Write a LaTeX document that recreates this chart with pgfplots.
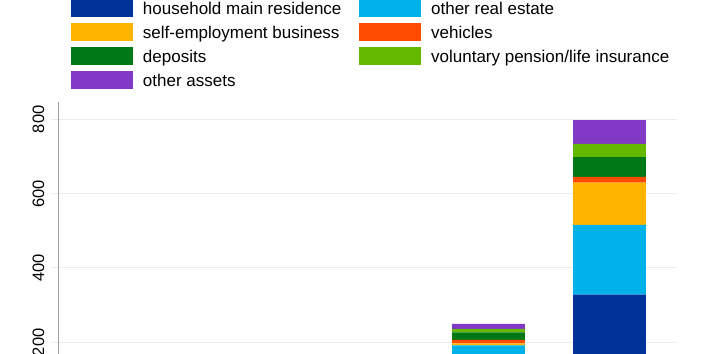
\documentclass[border=0pt]{standalone}
\usepackage{pgfplots}
\pgfplotsset{compat=1.18}
\usepackage{fontspec}
\setmainfont{Liberation Sans}
\definecolor{mainres}{HTML}{003299}
\definecolor{otherre}{HTML}{00B1EA}
\definecolor{selfemp}{HTML}{FFB400}
\definecolor{vehicles}{HTML}{FF4B00}
\definecolor{deposits}{HTML}{007816}
\definecolor{pension}{HTML}{65B800}
\definecolor{otherass}{HTML}{8139C6}
\definecolor{gridc}{HTML}{E8EEF0}
\begin{document}
\begin{tikzpicture}
\begin{axis}[
  name=ax,
  at={(58bp,-3bp)}, anchor=south west,
  scale only axis,
  width=619bp, height=255.3bp,
  ybar stacked,
  bar width=0.6,
  xmin=0.442, xmax=5.558,
  ymin=160.4, ymax=847.3,
  axis x line=none,
  axis y line*=left,
  y axis line style={draw=black!38, line width=1bp},
  ytick={200,400,600,800},
  ymajorgrids,
  major grid style={draw=gridc, line width=1bp},
  tick align=outside,
  major tick length=6.5bp,
  ytick style={draw=gridc, line width=1bp},
  /pgf/number format/assume math mode=true,
  yticklabel shift=7bp,
  yticklabel style={rotate=90, anchor=south, inner sep=0pt,
    font=\fontsize{16.5bp}{19bp}\selectfont},
  legend image code/.code={\fill[#1] (0bp,-8.75bp) rectangle (62bp,8.75bp);},
  legend columns=2,
  legend cell align=left,
  legend style={at={(0.0210,1.4015)}, anchor=north west,
    draw=none, fill=none, inner sep=0pt, outer sep=0pt,
    row sep=6.5bp,
    font=\fontsize{17bp}{20bp}\selectfont,
    nodes={inner sep=0pt, outer sep=0pt, text depth=0pt},
    /tikz/every odd column/.append style={column sep=10bp},
    /tikz/every even column/.append style={column sep=17.7bp}},
]
\addplot[fill=mainres, draw=none] coordinates {(1,60) (2,80) (3,100) (4,140) (5,328)};
\addplot[fill=otherre, draw=none] coordinates {(1,15) (2,20) (3,25) (4,51.9) (5,187.6)};
\addplot[fill=selfemp, draw=none] coordinates {(1,5) (2,6) (3,8) (4,5.4) (5,113.9)};
\addplot[fill=vehicles, draw=none] coordinates {(1,3) (2,4) (3,5) (4,8.9) (5,15.2)};
\addplot[fill=deposits, draw=none] coordinates {(1,5) (2,7) (3,9) (4,20.7) (5,53.8)};
\addplot[fill=pension, draw=none] coordinates {(1,2) (2,3) (3,4) (4,8.9) (5,35.1)};
\addplot[fill=otherass, draw=none] coordinates {(1,5) (2,6) (3,7) (4,13.4) (5,64.4)};
\legend{household main residence, other real estate, self-employment business, vehicles, deposits, voluntary pension/life insurance, other assets}
\end{axis}
\pgfresetboundingbox
\useasboundingbox (0bp,0bp) rectangle (708bp,354bp);
\end{tikzpicture}
\end{document}
